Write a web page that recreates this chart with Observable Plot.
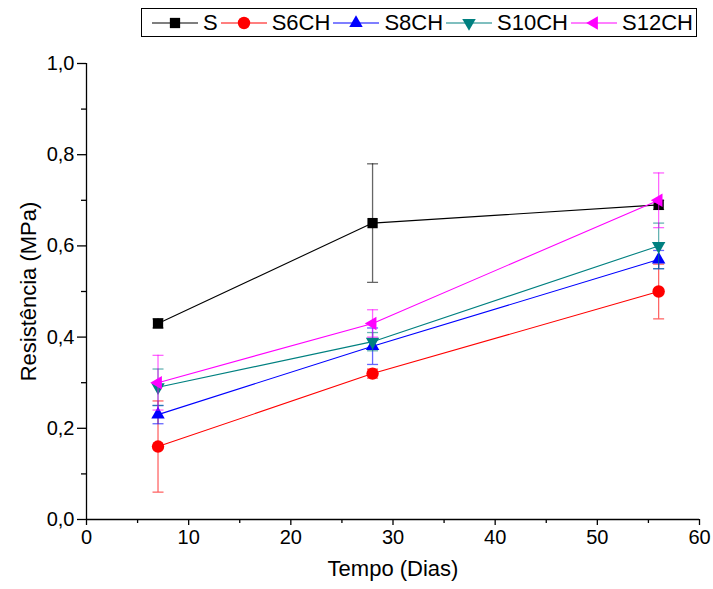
<!DOCTYPE html>
<html>
<head>
<meta charset="utf-8">
<script src="https://cdn.jsdelivr.net/npm/d3@7"></script>
<script src="https://cdn.jsdelivr.net/npm/@observablehq/plot@0.6"></script>
<style>
  html, body { margin: 0; padding: 0; background: white; }
  #wrap { position: relative; width: 713px; height: 589px; font-family: "Liberation Sans", Arial, sans-serif; }
  #legend { position: absolute; left: 141px; top: 8px; width: 556px; height: 29px; border: 1px solid #000; background: white;
            display: flex; align-items: center; box-sizing: border-box; padding-left: 8px; }
  #legend .item { display: flex; align-items: center; font-size: 22px; color: #000; }
  #legend svg { display: block; }
</style>
</head>
<body>
<div id="wrap"><div id="legend"></div></div>
<script>
// ---- data ----
const days = [7, 28, 56];
const seriesNames = ["S", "S6CH", "S8CH", "S10CH", "S12CH"];
const seriesColors = ["#000000", "#ff0000", "#0000ff", "#008080", "#ff00ff"];
const sValues   = [0.43, 0.65, 0.69];
const sErrors   = [0.01, 0.13, 0.01];
const s6Values  = [0.16, 0.32, 0.50];
const s6Errors  = [0.10, 0.01, 0.06];
const s8Values  = [0.23, 0.38, 0.57];
const s8Errors  = [0.02, 0.04, 0.02];
const s10Values = [0.29, 0.39, 0.60];
const s10Errors = [0.04, 0.02, 0.05];
const s12Values = [0.30, 0.43, 0.70];
const s12Errors = [0.06, 0.03, 0.06];
const xTicks = [0, 10, 20, 30, 40, 50, 60];
const yTicks = [0, 0.2, 0.4, 0.6, 0.8, 1.0];

const allValues = [sValues, s6Values, s8Values, s10Values, s12Values];
const allErrors = [sErrors, s6Errors, s8Errors, s10Errors, s12Errors];

// marker styles per series
const markerSym = ["square", "circle", "triangle", "triangle", "triangle"];
const markerRot = [0, 0, 0, 180, -90];
const markerR   = [5.8, 6.2, 5.0, 5.0, 5.0];

const capSymbol = {
  draw(context, size) {
    const w = Math.sqrt(size) / 2;
    context.moveTo(-w, 0);
    context.lineTo(w, 0);
  }
};

const rows = [];
seriesNames.forEach((name, i) => {
  days.forEach((d, j) => {
    rows.push({series: name, idx: i, day: d, value: allValues[i][j], err: allErrors[i][j]});
  });
});

const marks = [];
// axes
marks.push(Plot.ruleY([0], {stroke: "#000", strokeWidth: 1.3}));
marks.push(Plot.ruleX([0], {stroke: "#000", strokeWidth: 1.3}));
marks.push(Plot.axisX({ticks: xTicks, tickSize: 6, tickPadding: 4, fontSize: 20, tickFormat: d => String(d), label: null, stroke: "#000", strokeWidth: 1.3, color: "#000"}));
marks.push(Plot.axisX({ticks: d3.range(5, 60, 10), tickSize: 4, tickFormat: () => "", label: null, stroke: "#000", strokeWidth: 1.3}));
marks.push(Plot.axisY({ticks: yTicks, tickSize: 9, tickPadding: 3, fontSize: 20, tickFormat: d => d.toFixed(1).replace(".", ","), label: null, stroke: "#000", strokeWidth: 1.3, color: "#000"}));
marks.push(Plot.axisY({ticks: [0.1, 0.3, 0.5, 0.7, 0.9], tickSize: 5, tickFormat: () => "", label: null, stroke: "#000", strokeWidth: 1.3}));

seriesNames.forEach((name, i) => {
  const data = rows.filter(r => r.idx === i);
  const c = seriesColors[i];
  marks.push(Plot.line(data, {x: "day", y: "value", stroke: c, strokeWidth: 1.1}));
  marks.push(Plot.ruleX(data, {x: "day", y1: d => d.value - d.err, y2: d => d.value + d.err, stroke: c, strokeOpacity: 0.6, strokeWidth: 1.3}));
  marks.push(Plot.dot(data, {x: "day", y: d => d.value - d.err, symbol: capSymbol, r: 6.2, stroke: c, strokeOpacity: 0.6, fill: "none", strokeWidth: 1.3}));
  marks.push(Plot.dot(data, {x: "day", y: d => d.value + d.err, symbol: capSymbol, r: 6.2, stroke: c, strokeOpacity: 0.6, fill: "none", strokeWidth: 1.3}));
  marks.push(Plot.dot(data, {x: "day", y: "value", symbol: markerSym[i], rotate: markerRot[i], r: markerR[i], fill: c, stroke: "none"}));
});

// axis titles
marks.push(Plot.text(["Resistência (MPa)"], {frameAnchor: "left", textAnchor: "middle", dx: -58, rotate: -90, fontSize: 22, fill: "#000"}));
marks.push(Plot.text(["Tempo (Dias)"], {frameAnchor: "bottom", textAnchor: "middle", dy: 56, fontSize: 22, fill: "#000"}));

const chart = Plot.plot({
  width: 713,
  height: 589,
  marginTop: 63,
  marginBottom: 70,
  marginLeft: 86,
  marginRight: 14,
  x: {domain: [0, 60], axis: null},
  y: {domain: [0, 1], axis: null},
  style: {fontFamily: "'Liberation Sans', Arial, sans-serif", background: "white", color: "#000", overflow: "visible"},
  marks
});
document.getElementById("wrap").insertBefore(chart, document.getElementById("legend"));

// legend
const legend = d3.select("#legend");
seriesNames.forEach((name, i) => {
  const item = legend.append("div").attr("class", "item");
  const svg = item.append("svg").attr("width", 50).attr("height", 26);
  svg.append("line").attr("x1", 2).attr("x2", 48).attr("y1", 13).attr("y2", 13)
    .attr("stroke", seriesColors[i]).attr("stroke-width", 1.1);
  const symType = markerSym[i] === "square" ? d3.symbolSquare : markerSym[i] === "circle" ? d3.symbolCircle : d3.symbolTriangle;
  svg.append("path")
    .attr("d", d3.symbol(symType, Math.PI * markerR[i] * markerR[i])())
    .attr("transform", `translate(25,13) rotate(${markerRot[i]})`)
    .attr("fill", seriesColors[i]);
  item.append("span").text(name).style("margin", "0 1px 0 3px");
});
</script>
</body>
</html>
